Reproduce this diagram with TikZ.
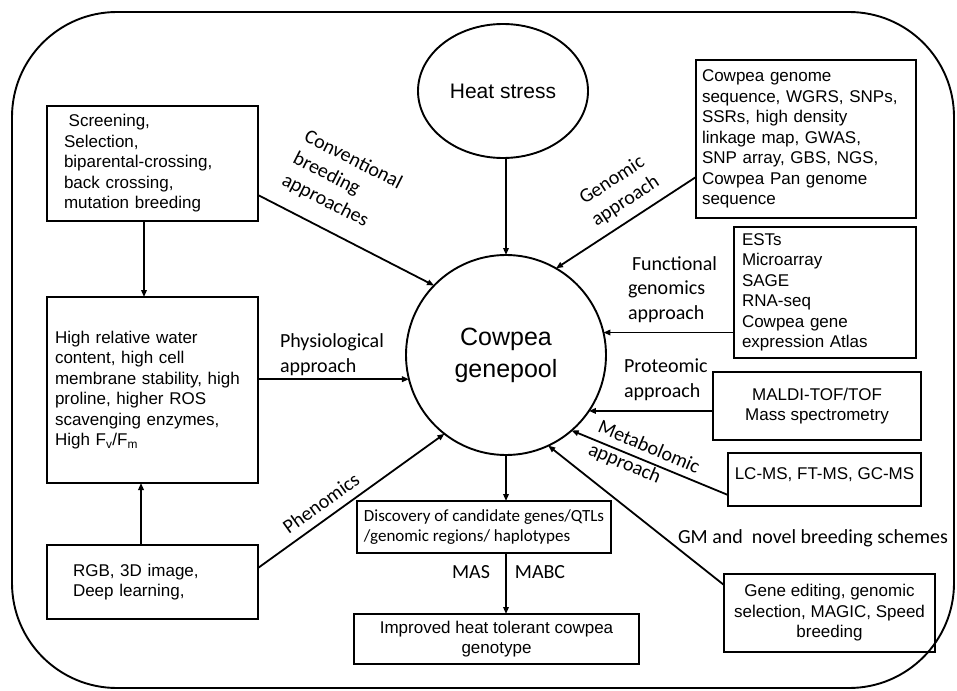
\documentclass[tikz,border=0pt]{standalone}
\usepackage{fontspec}
\setmainfont{Liberation Sans}
\newfontfamily\calib{Carlito}
\usetikzlibrary{arrows.meta,shapes.geometric,calc}
\begin{document}
\begin{tikzpicture}[x=1pt,y=-1pt,
  every node/.style={inner sep=0pt, outer sep=0pt},
  bx/.style={draw, line width=1.9pt, rectangle, font=\fontsize{17}{20.5}\selectfont},
  lbl/.style={font=\calib\fontsize{20}{24.5}\selectfont, align=left},
  ln/.style={line width=1.9pt},
  arr/.style={line width=1.8pt, -{Triangle[length=7pt,width=5.5pt]}}]
\fill[white] (0,0) rectangle (957,690);
\useasboundingbox (0,0) rectangle (957,690);
\draw[ln, rounded corners=105pt] (12,12) rectangle (954,688);

% main nodes
\node[draw, ln, ellipse, minimum width=170pt, minimum height=134pt, font=\fontsize{21}{25}\selectfont] (heat) at (503,91) {Heat stress};
\node[draw, ln, circle, minimum size=200pt, align=center, font=\fontsize{25}{32}\selectfont] (cg) at (506,355) {Cowpea\\genepool};

% boxes
\node[bx, text width=177pt, inner xsep=17pt, minimum height=115pt, align=left] (tl) at (152.5,163.5)
  {\hspace*{4.7pt}Screening,\\Selection,\\biparental-crossing,\\back crossing,\\mutation breeding};
\node[bx, text width=195pt, inner xsep=8pt, minimum height=186pt, align=left] (pb) at (152.5,390)
  {High relative water\\content, high cell\\membrane stability, high\\proline, higher ROS\\scavenging enzymes,\\High F\textsubscript{v}/F\textsubscript{m}};
\node[bx, text width=159pt, inner xsep=26pt, minimum height=74pt, align=left] (bl) at (152.5,582)
  {RGB, 3D image,\\Deep learning,};
\node[bx, text width=208pt, inner xsep=6pt, minimum height=158pt, align=left] (tr) at (806,139)
  {Cowpea genome\\sequence, WGRS, SNPs,\\SSRs, high density\\linkage map, GWAS,\\SNP array, GBS, NGS,\\Cowpea Pan genome\\sequence};
\node[bx, text width=166pt, inner xsep=8pt, minimum height=131pt, align=left] (fb) at (825,292.5)
  {ESTs\\Microarray\\SAGE\\RNA-seq\\Cowpea gene\\expression Atlas};
\node[bx, minimum width=208pt, minimum height=68pt, align=center] (prot) at (817,406)
  {MALDI-TOF/TOF\\Mass spectrometry};
\node[bx, minimum width=193pt, text height=26pt, text depth=27pt] (lc) at (824.5,479.5)
  {LC-MS, FT-MS, GC-MS};
\node[bx, minimum width=211pt, minimum height=78pt, align=center] (ge) at (829.5,613)
  {Gene editing, genomic\\selection, MAGIC, Speed\\breeding};
\node[bx, minimum width=254pt, minimum height=52pt, align=left, font=\calib\fontsize{17}{20}\selectfont] (disc) at (484,527)
  {Discovery of candidate genes/QTLs\\/genomic regions/ haplotypes};
\node[bx, minimum width=285pt, minimum height=50pt, align=center] (imp) at (496.5,639)
  {Improved heat tolerant cowpea\\genotype};

% labels
\node[lbl, rotate=-27] (lconv) at (342,182) {Conventional\\breeding\\approaches};
\node[lbl, anchor=west] (lphys) at (280,354.5) {Physiological\\approach};
\node[lbl, rotate=35.6] (lphen) at (321,503) {Phenomics};
\node[lbl, rotate=33, align=center] (lgen) at (619,191) {Genomic\\approach};
\node[lbl, anchor=west] (lfun) at (628,289.5) {\hspace*{4pt}Functional\\genomics\\approach};
\node[lbl, anchor=west] (lprot) at (624,379.5) {Proteomic\\approach};
\node[lbl, rotate=-23] (lmet) at (644,459) {Metabolomic\\approach};
\node[lbl, anchor=west] (lgm) at (678,538) {GM and\ \ novel breeding schemes};
\node[lbl] (lmas) at (471,572) {MAS};
\node[lbl] (lmabc) at (540,572) {MABC};

% connectors
\draw[arr] (cg.north |- heat.south) -- (cg.north);
\draw[arr] ([yshift=-31.5pt]tl.east) -- (cg.136);
\draw[arr] (pb.east |- cg.194) -- (cg.194);
\draw[arr] ([yshift=14pt]bl.east) -- (cg.232);
\draw[arr] ([yshift=-38pt]tr.west) -- (cg.60.5);
\draw[arr] (fb.west |- cg.13.3) -- (cg.13.3);
\draw[arr] (prot.west |- cg.326) -- (cg.326);
\draw[arr] ([yshift=-15.5pt]lc.west) -- (cg.311.2);
\draw[arr] ([yshift=-11pt]ge.north west) -- (cg.295.2);
\draw[arr] (cg.south) -- (cg.south |- disc.north);
\draw[arr] (disc.south -| cg.south) -- (imp.north -| cg.south);
\draw[arr] ([xshift=-8.5pt]tl.south) -- ([xshift=-8.5pt]pb.north);
\draw[arr] ([xshift=-11.5pt]bl.north) -- ([xshift=-11.5pt]pb.south);
\end{tikzpicture}
\end{document}
